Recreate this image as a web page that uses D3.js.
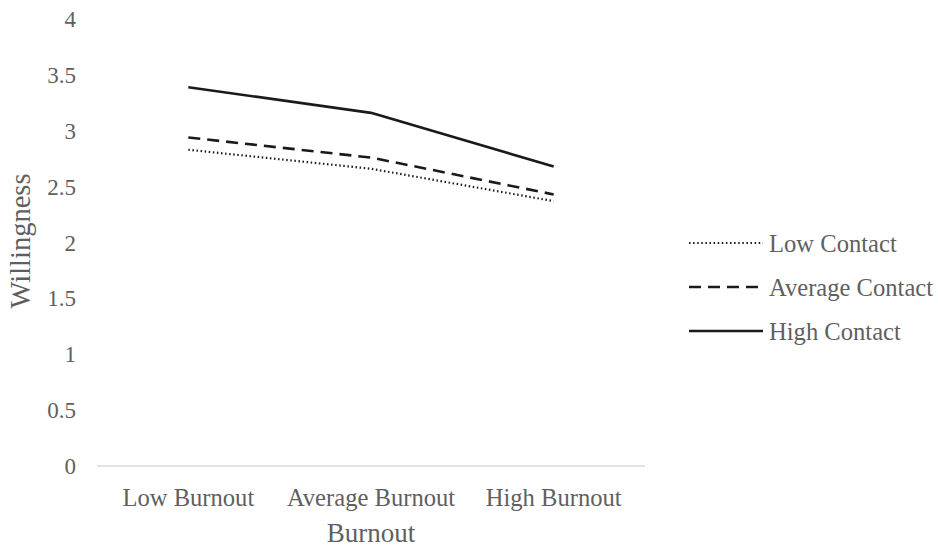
<!DOCTYPE html>
<html>
<head>
<meta charset="utf-8">
<script src="https://cdn.jsdelivr.net/npm/d3@7"></script>
<style>
  body { margin: 0; background: #fff; }
  svg { display: block; }
  text { font-family: "Liberation Serif", "Times New Roman", serif; fill: #5f5f5f; }
</style>
</head>
<body>
<svg id="chart" width="938" height="547"></svg>
<script>
const categories = ["Low Burnout", "Average Burnout", "High Burnout"];
const seriesNames = ["Low Contact", "Average Contact", "High Contact"];
const lowContact = [2.83, 2.66, 2.37];
const averageContact = [2.94, 2.76, 2.43];
const highContact = [3.39, 3.16, 2.68];
const yTicks = [0, 0.5, 1, 1.5, 2, 2.5, 3, 3.5, 4];
const yTickLabels = ["0", "0.5", "1", "1.5", "2", "2.5", "3", "3.5", "4"];
const xTitle = "Burnout";
const yTitle = "Willingness";

const series = [
  { name: seriesNames[0], values: lowContact, dash: "1.5,2.6", width: 2.2 },
  { name: seriesNames[1], values: averageContact, dash: "12,7", width: 2.6 },
  { name: seriesNames[2], values: highContact, dash: null, width: 2.6 }
];

const svg = d3.select("#chart");
const mLeft = 97, mRight = 645, mTop = 19, mBottom = 466;

const x = d3.scaleBand().domain(categories).range([mLeft, mRight]);
const y = d3.scaleLinear().domain([0, 4]).range([mBottom, mTop]);

// Y tick labels
svg.append("g").selectAll("text").data(yTicks).join("text")
  .attr("x", 76).attr("y", d => y(d)).attr("dy", "0.35em")
  .attr("text-anchor", "end").attr("font-size", 23)
  .text((d, i) => yTickLabels[i]);

// X axis line
svg.append("line").attr("x1", mLeft).attr("x2", mRight)
  .attr("y1", y(0)).attr("y2", y(0))
  .attr("stroke", "#d9d9d9").attr("stroke-width", 1.5);

// X tick labels
svg.append("g").selectAll("text").data(categories).join("text")
  .attr("x", d => x(d) + x.bandwidth() / 2).attr("y", 497).attr("dy", "0.35em")
  .attr("text-anchor", "middle").attr("font-size", 24.6)
  .text(d => d);

// Axis titles
svg.append("text").attr("x", x(categories[1]) + x.bandwidth() / 2).attr("y", 533)
  .attr("dy", "0.35em").attr("text-anchor", "middle").attr("font-size", 27).text(xTitle);
svg.append("text").attr("transform", `translate(20,241) rotate(-90)`)
  .attr("dy", "0.35em").attr("text-anchor", "middle").attr("font-size", 28.5).text(yTitle);

// Lines
const line = d3.line().x((d, i) => x(categories[i]) + x.bandwidth() / 2).y(d => y(d));
svg.append("g").selectAll("path").data(series).join("path")
  .attr("d", d => line(d.values))
  .attr("fill", "none").attr("stroke", "#1a1a1a")
  .attr("stroke-width", d => d.width)
  .attr("stroke-dasharray", d => d.dash)
  .attr("stroke-linejoin", "round");

// Legend
const legendY = d3.scalePoint().domain(seriesNames).range([243, 331]);
const lg = svg.append("g").selectAll("g").data(series).join("g")
  .attr("transform", d => `translate(0,${legendY(d.name)})`);
lg.append("line").attr("x1", 689).attr("x2", 763).attr("y1", 0).attr("y2", 0)
  .attr("stroke", "#1a1a1a").attr("stroke-width", d => d.width)
  .attr("stroke-dasharray", d => d.dash);
lg.append("text").attr("x", 769).attr("y", 0).attr("dy", "0.35em")
  .attr("font-size", 24.6).text(d => d.name);
</script>
</body>
</html>
